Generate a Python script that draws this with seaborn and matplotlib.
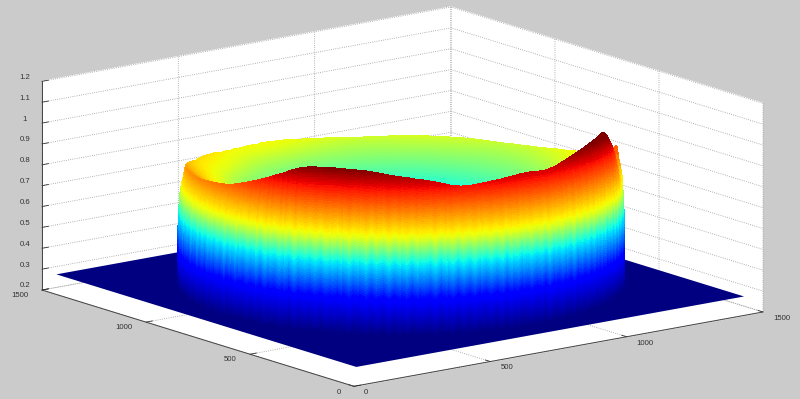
import numpy as np
import matplotlib
matplotlib.use('Agg')
import matplotlib.pyplot as plt
from matplotlib.colors import FuncNorm
from mpl_toolkits.mplot3d import proj3d
import seaborn as sns

# axis ticks
x_ticks = [0, 500, 1000, 1500]
y_ticks = [0, 500, 1000, 1500]
z_ticks = [0.2, 0.3, 0.4, 0.5, 0.6, 0.7, 0.8, 0.9, 1.0, 1.1, 1.2]
z_labels = ['0.2', '0.3', '0.4', '0.5', '0.6', '0.7', '0.8', '0.9', '1', '1.1', '1.2']

# flat part of the surface
floor_x = [28, 1450]
floor_y = [28, 1470]
floor_z = 0.28

# ring centre, height of the rim read every 1.5 degrees, starting behind the ring
ring_center = 730
rim_start = -180
rim_step = 1.5
rim_back = 0.76
rim_z = [
    .760, .759, .758, .757, .756, .757, .758, .756, .755, .757, .759, .758, .761, .762, .764, .763, .767, .768, .770, .772, .774, .776, .778, .777,
    .780, .782, .783, .785, .779, .782, .785, .784, .782, .785, .786, .784, .788, .790, .790, .795, .800, .802, .804, .806, .808, .810, .811, .812,
    .812, .816, .820, .824, .828, .832, .836, .840, .844, .848, .852, .856, .860, .863, .866, .869, .872, .875, .877, .878, .880, .881, .883, .884,
    .885, .886, .888, .890, .892, .894, .897, .899, .902, .905, .908, .911, .915, .920, .925, .932, .940, .948, .955, .963, .972, .981, .990, 1.000,
    1.010, 1.020, 1.030, 1.041, 1.052, 1.062, 1.070, 1.074, 1.077, 1.079, 1.081, 1.083, 1.082, 1.080, 1.080, 1.079, 1.078, 1.077, 1.075, 1.071, 1.068, 1.063, 1.058, 1.054,
    1.050, 1.047, 1.042, 1.037, 1.034, 1.029, 1.024, 1.017, 1.010, 1.003, .998, .996, .995, .997, 1.000, 1.002, 1.005, 1.008, 1.010, 1.013, 1.016, 1.019, 1.022, 1.024,
    1.025, 1.024, 1.022, 1.020, 1.020, 1.022, 1.025, 1.031, 1.038, 1.044, 1.050, 1.056, 1.062, 1.067, 1.072, 1.077, 1.082, 1.086, 1.090, 1.094, 1.098, 1.102, 1.105, 1.098,
    1.085, 1.065, 1.045, 1.025, 1.005, .985, .965, .942, .920, .900, .885, .875, .870, .905, .945, .905, .875, .865, .860, .855, .850, .846, .843, .839,
    .835, .831, .827, .823, .820, .816, .812, .807, .802, .798, .795, .790, .785, .782, .778, .775, .772, .770, .768, .765, .762, .760, .758, .757,
    .756, .755, .754, .754, .753, .752, .752, .753, .754, .755, .756, .757, .758, .758, .757, .758, .759, .759, .758, .759, .760, .760, .759, .760,
]

# radial section of the outer wall: radius and share of the rim height
wall_r = [660, 656, 654, 653] + [652] * 24 + [651] * 6 + [650] * 5 + [649] * 4 + [648] * 3 + [647] * 3 + [646] * 2 + [645] * 2 + [
    644, 643, 642, 641, 640, 639, 638, 636, 635, 634, 633, 632, 631, 630, 629]
wall_h = [
    0, .015, .03, .045, .06, .075, .09, .105, .12, .135, .15, .165, .18, .195, .21, .225, .24,
    .255, .27, .285, .30, .315, .33, .345, .36, .375, .39, .405, .42, .435, .45, .465, .48, .495,
    .51, .525, .54, .555, .57, .585, .60, .615, .63, .645, .66, .675, .69, .705, .72, .735, .75,
    .765, .78, .795, .81, .825, .84, .855, .87, .885, .90, .915, .93, .945, .96, .975, .99, 1.0,
]
# radial section of the inside, down to the middle
inner_r = [
    622, 612, 602, 592, 582, 572, 562, 552, 542, 532, 522, 512, 502, 492, 482, 472, 462, 452, 442, 432,
    422, 412, 402, 392, 382, 372, 362, 352, 342, 332, 322, 312, 302, 270, 240, 200, 150, 100, 50, 0,
]
inner_h = [
    .988, .981, .975, .970, .964, .959, .953, .948, .942, .937, .931, .926, .920, .915, .909, .904, .898, .893, .887, .882,
    .876, .871, .865, .860, .854, .849, .843, .838, .832, .827, .821, .816, .810, .790, .765, .72, .65, .58, .52, .50,
]
# how far a rim higher than the back one still lifts the inside
inner_lift = [
    .97, .92, .86, .80, .74, .68, .62, .56, .50, .44, .38, .32, .27, .22, .17, .13, .09, .06, .04, .02,
    .01, 0, 0, 0, 0, 0, 0, 0, 0, 0, 0, 0, 0, 0, 0, 0, 0, 0, 0, 0,
]
# how much the streaks show at each level of the wall
wall_streak = [0, .2, .4, .6, .8] + [1] * 30 + [
    .97, .94, .91, .88, .85, .82, .79, .76, .73, .70, .67, .64, .61, .58, .55, .52, .49,
    .46, .43, .40, .37, .34, .31, .28, .25, .22, .19, .16, .13, .10, .07, .04, .01]
# vertical streaks on the outer wall
streaks = [
    .008, -.012, .004, .015, -.006, -.017, .010, .002, -.009, .018, -.004, .007, -.014,
    .012, -.002, -.011, .016, .001, -.007, .005, -.018, .011, .003, -.013, .014, -.005,
    .009, -.016, .001, .013, -.008, .006, -.011, .017, -.003, -.014, .007, .011, -.010,
    .003, -.006, .015, -.015, .004, .009, -.012, .002, .012, -.017, .006, -.001, .010, -.007,
]
# height where each colour of the map falls on the surface
color_z = [.30, .48, .655, .765, .98, 1.08]
color_pos = [0, .125, .375, .625, .875, 1]

sns.set_theme(style='white', rc={'grid.linestyle': ':', 'grid.linewidth': 0.6, 'grid.color': '#999999'})
plt.rcParams['font.family'] = ['Liberation Sans', 'DejaVu Sans']
jet = plt.get_cmap('jet')
height_norm = FuncNorm((lambda v: np.interp(v, color_z, color_pos), lambda v: np.interp(v, color_pos, color_z)),
                       vmin=color_z[0], vmax=color_z[-1], clip=True)

rim = np.array(rim_z + rim_z[:1])
angles = np.radians(rim_start + rim_step * np.arange(len(rim)) - 127.5)
section_radius = np.array(wall_r + inner_r, dtype=float)
streak_column = np.resize(streaks, len(rim))
streak_column[-1] = streak_column[0]

ang_grid, r_grid = np.meshgrid(angles, section_radius, indexing='ij')
ring_x = ring_center + r_grid * np.cos(ang_grid)
ring_y = ring_center + r_grid * np.sin(ang_grid)
wall_z = floor_z + np.outer(rim - floor_z, wall_h) + np.outer(streak_column, wall_streak)
bowl_z = floor_z + np.array(inner_h) * (rim_back - floor_z)
inside_z = bowl_z + np.outer(rim - rim_back, inner_lift)
ring_z = np.hstack([wall_z, inside_z])

fig = plt.figure(figsize=(8.0, 3.99), dpi=100, facecolor='#cbcbcb')
ax = fig.add_axes([0, 0, 1, 1], projection='3d', proj_type='ortho', computed_zorder=False)
ax.patch.set_alpha(0)
ax.view_init(elev=13.7, azim=-127.5)
ax.set_box_aspect((516, 513, 215))
ax.set_xlim(0, 1500)
ax.set_ylim(0, 1500)
ax.set_zlim(0.2, 1.2)

fx, fy = np.meshgrid(floor_x, floor_y)
ax.plot_surface(fx, fy, np.full(fx.shape, floor_z), color=jet(0.0), shade=False, linewidth=0,
                antialiased=False, zorder=1)
ax.plot_surface(ring_x, ring_y, ring_z, cmap=jet, norm=height_norm, linewidth=0,
                antialiased=False, rstride=1, cstride=1, zorder=2)

ax.set_xticks(x_ticks)
ax.set_yticks(y_ticks)
ax.set_zticks(z_ticks)
ax.set_zticklabels(z_labels)
ax.tick_params(axis='x', labelsize=5.6, colors='#333333', pad=1)
ax.tick_params(axis='y', labelsize=5.6, colors='#333333', pad=1)
ax.tick_params(axis='z', labelsize=5.6, colors='#333333', pad=-1.5)
for axis in (ax.xaxis, ax.yaxis, ax.zaxis):
    axis.set_pane_color((1, 1, 1, 1))
    axis.pane.set_edgecolor('white')
    axis.line.set_color('#444444')
    axis.line.set_linewidth(0.7)
    axis._axinfo['tick']['inward_factor'] = 0.0
    axis._axinfo['tick']['outward_factor'] = 0.2
    axis._axinfo['tick']['linewidth'] = {True: 0.6, False: 0.6}
    axis._axinfo['tick']['color'] = '#444444'
for lab in ax.get_xticklabels():
    lab.set_ha('left')
    lab.set_va('bottom')
for lab in ax.get_yticklabels():
    lab.set_ha('right')
    lab.set_va('bottom')
for lab in ax.get_zticklabels():
    lab.set_va('bottom')

# put the box corners where they sit in the reference
size, cx, cy = 800.0, 400.0, 200.0
for _ in range(3):
    ax.set_position([(cx - size / 2) / 800, (cy - size / 2) / 399, size / 800, size / 399])
    fig.canvas.draw()
    corners = []
    for px, py, pz in [(0, 1500, 0.2), (1500, 0, 0.2)]:
        u, v, _w = proj3d.proj_transform(px, py, pz, ax.get_proj())
        corners.append(ax.transData.transform((u, v)))
    left, right = corners
    scale = (763 - 42) / (right[0] - left[0])
    size *= scale
    cx += 402.5 - (left[0] + right[0]) / 2
    cy += (399 - 301) - (left[1] + right[1]) / 2

ax.set_position([(cx - size / 2) / 800, (cy - size / 2) / 399, size / 800, size / 399])
fig.savefig('out.png', dpi=100, facecolor=fig.get_facecolor())
